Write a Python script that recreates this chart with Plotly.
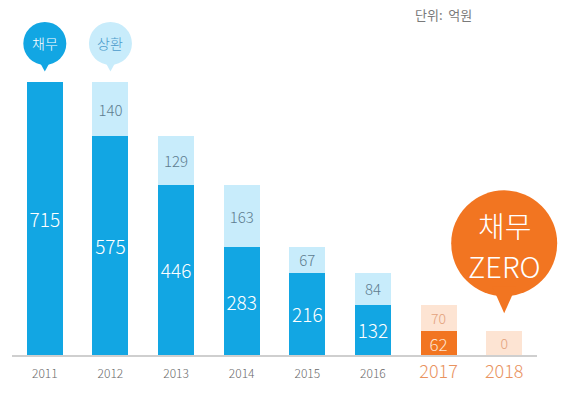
import plotly.graph_objects as go

years = ["2011", "2012", "2013", "2014", "2015", "2016", "2017", "2018"]
debt = [715, 575, 446, 283, 216, 132, 62, 0]
repay = [0, 140, 129, 163, 67, 84, 70, 62]
debt_labels = ["715", "575", "446", "283", "216", "132", "62", ""]
repay_labels = ["", "140", "129", "163", "67", "84", "70", "0"]
unit_text = "단위:  억원"

BLUE = "#12a6e3"
LBLUE = "#c8ecfb"
ORANGE = "#f27521"
LORANGE = "#fde4d3"

debt_colors = [BLUE] * 6 + [ORANGE, ORANGE]
repay_colors = [LBLUE] * 6 + [LORANGE, LORANGE]
debt_text_colors = ["white"] * 6 + ["#fde3cf", "white"]
repay_text_colors = ["#5e7d90"] * 6 + ["#e3a27c", "#e3a27c"]
debt_sizes = [19, 19, 19, 19, 19, 19, 17, 14]
repay_sizes = [15] * 6 + [14, 14]

FONT = "Noto Sans CJK KR"
W_LIGHT = 300
YMAX = 905
ML, MR, MT, MB = 12, 43, 10, 41

fig = go.Figure()
fig.add_trace(go.Bar(
    x=years, y=debt, marker=dict(color=debt_colors, line=dict(width=0)),
    text=debt_labels, textposition="inside", insidetextanchor="middle", textangle=0,
    textfont=dict(color=debt_text_colors, size=debt_sizes, family=FONT, weight=W_LIGHT),
    constraintext="none", hoverinfo="skip", width=0.55,
))
fig.add_trace(go.Bar(
    x=years, y=repay, marker=dict(color=repay_colors, line=dict(width=0)),
    text=repay_labels, textposition="inside", insidetextanchor="middle", textangle=0,
    textfont=dict(color=repay_text_colors, size=repay_sizes, family=FONT, weight=W_LIGHT),
    constraintext="none", hoverinfo="skip", width=0.55,
))

ticktext = []
for i, yv in enumerate(years):
    if i >= 6:
        ticktext.append(f'<span style="font-size:18px;fill:#e9935f;color:#e9935f">{yv}</span>')
    else:
        ticktext.append(yv)

shapes = []
annotations = []
n = len(years)

def px(i):
    return (i + 0.5) / n

def py(v):
    return v / YMAX

def bubble(xi, yval, r, cy, tip, base_y, half_w, color):
    shapes.append(dict(type="circle", xref="paper", yref="paper", xsizemode="pixel", ysizemode="pixel",
                       xanchor=px(xi), yanchor=py(yval), x0=-r, x1=r, y0=cy - r, y1=cy + r,
                       fillcolor=color, line=dict(width=0), layer="above"))
    shapes.append(dict(type="path", xref="paper", yref="paper", xsizemode="pixel", ysizemode="pixel",
                       xanchor=px(xi), yanchor=py(yval),
                       path=f"M {-half_w},{base_y} L 0,{tip} L {half_w},{base_y} Z",
                       fillcolor=color, line=dict(width=0), layer="above"))

def label(xi, yval, shift, text, color, size):
    annotations.append(dict(x=px(xi), y=py(yval), xref="paper", yref="paper", yshift=shift,
                            showarrow=False, text=text, xanchor="center", yanchor="middle",
                            font=dict(color=color, size=size, family=FONT, weight=W_LIGHT)))

bubble(0, debt[0] + repay[0], 21.5, 39, 11, 22, 6, BLUE)
bubble(1, debt[1] + repay[1], 21.5, 39, 11, 22, 6, LBLUE)
bubble(7, debt[7] + repay[7], 53, 88, 18, 45, 12, ORANGE)

label(0, debt[0] + repay[0], 39, "채무", "white", 14)
label(1, debt[1] + repay[1], 39, "상환", "#4b9bcb", 14)
label(7, debt[7] + repay[7], 106, "채무", "white", 29)
label(7, debt[7] + repay[7], 66, "ZERO", "white", 29)

annotations.append(dict(x=(443 - ML) / (580 - ML - MR), y=1 + (MT - 14) / (396 - MT - MB),
                        xref="paper", yref="paper", showarrow=False, xanchor="center", yanchor="middle",
                        text=unit_text, font=dict(color="#7a7a7a", size=13, family=FONT)))

fig.update_layout(
    width=580, height=396,
    margin=dict(l=ML, r=MR, t=MT, b=MB, autoexpand=False),
    barmode="stack", showlegend=False,
    plot_bgcolor="white", paper_bgcolor="white",
    font=dict(family=FONT),
    xaxis=dict(type="category", range=[-0.5, 7.5], showline=True, linecolor="#cfcfcf", linewidth=1.5,
               showgrid=False, zeroline=False, ticks="", tickvals=years, ticktext=ticktext,
               ticklabelstandoff=7,
               tickfont=dict(size=12, color="#6a6a6a", family=FONT, weight=W_LIGHT),
               fixedrange=True, automargin=False),
    yaxis=dict(range=[0, YMAX], visible=False, showgrid=False, zeroline=False, fixedrange=True,
               automargin=False),
    shapes=shapes,
    annotations=annotations,
)
fig.write_html("out.html", config={"displayModeBar": False},
               post_script="document.body.style.margin='0';document.body.style.overflow='hidden';")
